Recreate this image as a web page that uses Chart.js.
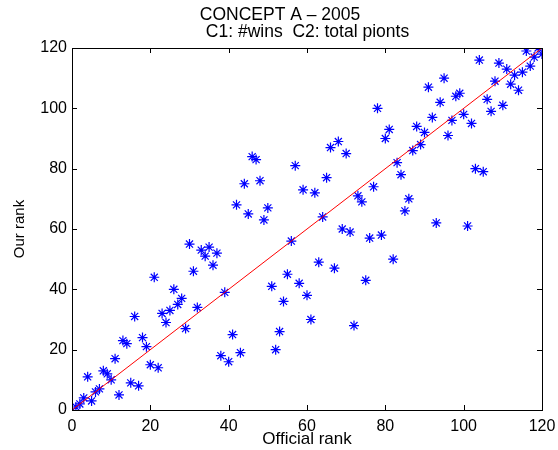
<!DOCTYPE html>
<html>
<head>
<meta charset="utf-8">
<script src="https://cdn.jsdelivr.net/npm/chart.js@4.4.1/dist/chart.umd.min.js"></script>
<style>
  html, body { margin: 0; padding: 0; background: #fff; }
</style>
</head>
<body>
<canvas id="rankChart" width="558" height="450"></canvas>
<script>
// Official rank (x) and our rank (y), one entry per team
const officialRank = [
  1, 2, 3, 4, 5, 6, 7, 8, 9, 10, 11, 12, 13, 14, 15, 16, 17, 18, 19, 20,
  21, 22, 23, 24, 25, 26, 27, 28, 29, 30, 31, 32, 33, 34, 35, 36, 37, 38, 39, 40,
  41, 42, 43, 44, 45, 46, 47, 48, 49, 50, 51, 52, 53, 54, 55, 56, 57, 58, 59, 60,
  61, 62, 63, 64, 65, 66, 67, 68, 69, 70, 71, 72, 73, 74, 75, 76, 77, 78, 79, 80,
  81, 82, 83, 84, 85, 86, 87, 88, 89, 90, 91, 92, 93, 94, 95, 96, 97, 98, 99, 100,
  101, 102, 103, 104, 105, 106, 107, 108, 109, 110, 111, 112, 113, 114, 115, 116, 117, 118, 119, 120
];
const ourRank = [
  1, 2, 4, 11, 3, 6, 7, 13, 12, 10, 17, 5, 23, 22, 9, 31, 8, 24, 21, 15,
  44, 14, 32, 29, 33, 40, 35, 37, 27, 55, 46, 34, 53, 51, 54, 48, 52, 18, 39, 16,
  25, 68, 19, 75, 65, 84, 83, 76, 63, 67, 41, 20, 26, 36, 45, 56, 81, 42, 73, 38,
  30, 72, 49, 64, 77, 87, 47, 89, 60, 85, 59, 28, 71, 69, 43, 57, 74, 100, 58, 90,
  93, 50, 82, 78, 66, 70, 86, 94, 88, 92, 107, 97, 62, 102, 110, 91, 96, 104, 105, 98,
  61, 95, 80, 116, 79, 103, 99, 109, 115, 101, 113, 108, 111, 106, 112, 119, 114, 117, 120, 118
];
// Reference diagonal (perfect agreement)
const diagX = [0, 120];
const diagY = [0, 120];
const tickValues = [0, 20, 40, 60, 80, 100, 120];

const FONT = '"Liberation Sans", Arial, Helvetica, sans-serif';

// MATLAB-like box with inward ticks on all four sides, plus two-line title
const matlabFrame = {
  id: 'matlabFrame',
  beforeDatasetsDraw(chart) {
    const { ctx, chartArea: a, scales: { x, y } } = chart;
    const tl = 5;
    ctx.save();
    ctx.strokeStyle = '#000';
    ctx.lineWidth = 1;
    ctx.beginPath();
    tickValues.forEach(v => {
      const px = Math.round(x.getPixelForValue(v)) + 0.5;
      ctx.moveTo(px, a.bottom); ctx.lineTo(px, a.bottom - tl);
      ctx.moveTo(px, a.top); ctx.lineTo(px, a.top + tl);
      const py = Math.round(y.getPixelForValue(v)) + 0.5;
      ctx.moveTo(a.left, py); ctx.lineTo(a.left + tl, py);
      ctx.moveTo(a.right, py); ctx.lineTo(a.right - tl, py);
    });
    ctx.stroke();
    ctx.restore();
  },
  afterDatasetsDraw(chart) {
    const { ctx, chartArea: a } = chart;
    ctx.save();
    ctx.strokeStyle = '#000';
    ctx.lineWidth = 1;
    ctx.strokeRect(a.left + 0.5, a.top + 0.5, a.right - a.left, a.bottom - a.top);
    ctx.fillStyle = '#000';
    ctx.font = '17.5px ' + FONT;
    ctx.textAlign = 'center';
    ctx.textBaseline = 'middle';
    ctx.fillText('CONCEPT A \u2013 2005', 280, 15);
    ctx.fillText('C1: #wins  C2: total pionts', 307.5, 32);
    ctx.restore();
  }
};

const ctx = document.getElementById('rankChart').getContext('2d');
new Chart(ctx, {
  type: 'scatter',
  data: {
    datasets: [
      {
        type: 'line',
        data: diagX.map((v, i) => ({ x: v, y: diagY[i] })),
        borderColor: 'rgb(255, 0, 0)',
        borderWidth: 1,
        pointRadius: 0,
        fill: false
      },
      {
        data: officialRank.map((v, i) => ({ x: v, y: ourRank[i] })),
        pointStyle: 'star',
        pointRadius: 5,
        borderColor: 'rgb(0, 0, 255)',
        backgroundColor: 'rgb(0, 0, 255)',
        borderWidth: 1.2
      }
    ]
  },
  options: {
    responsive: false,
    animation: false,
    devicePixelRatio: 1,
    layout: { padding: { top: 48, right: 16, left: 0, bottom: 0 } },
    plugins: {
      legend: { display: false },
      tooltip: { enabled: false }
    },
    scales: {
      x: {
        type: 'linear',
        min: 0,
        max: 120,
        afterFit: s => { s.height = 40; s.paddingLeft = 0; s.paddingRight = 0; },
        afterBuildTicks: s => { s.ticks = tickValues.map(v => ({ value: v })); },
        grid: { display: false, drawTicks: false },
        border: { display: false },
        ticks: { color: '#000', padding: 7, font: { family: FONT, size: 16 } },
        title: {
          display: true,
          text: 'Official rank',
          color: '#000',
          padding: { top: 0, bottom: 0 },
          font: { family: FONT, size: 17 }
        }
      },
      y: {
        type: 'linear',
        min: 0,
        max: 120,
        afterFit: s => { s.width = 72; s.paddingTop = 0; s.paddingBottom = 0; },
        afterBuildTicks: s => { s.ticks = tickValues.map(v => ({ value: v })); },
        grid: { display: false, drawTicks: false },
        border: { display: false },
        ticks: { color: '#000', padding: 5, font: { family: FONT, size: 16 } },
        title: {
          display: true,
          text: 'Our rank',
          color: '#000',
          padding: { top: 11, bottom: 0 },
          font: { family: FONT, size: 15 }
        }
      }
    }
  },
  plugins: [matlabFrame]
});
</script>
</body>
</html>
